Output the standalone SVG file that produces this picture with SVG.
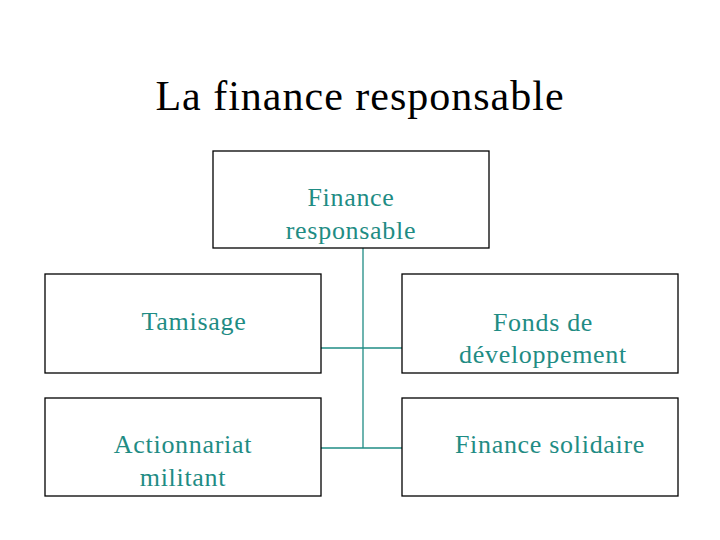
<svg xmlns="http://www.w3.org/2000/svg" width="720" height="540" viewBox="0 0 720 540">
<style>
.box{fill:#fff;stroke:#000;stroke-width:1.3}
.lbl{font-family:"Liberation Serif",serif;font-size:26px;letter-spacing:0.7px;fill:#1f8c84;text-anchor:middle}
.title{font-family:"Liberation Serif",serif;font-size:42px;letter-spacing:1px;fill:#000;text-anchor:middle}
.conn{stroke:#1f8c84;stroke-width:1.3;fill:none}
</style>
<rect width="720" height="540" fill="#fff"/>
<text class="title" x="360" y="110">La finance responsable</text>
<g id="connectors">
<path class="conn" d="M363 248 V448"/>
<path class="conn" d="M321 348 H404"/>
<path class="conn" d="M321 448 H404"/>
</g>
<g id="n_root">
<rect class="box" x="213" y="151" width="276" height="97"/>
<text class="lbl" x="351" y="206">Finance</text>
<text class="lbl" x="351" y="239">responsable</text>
</g>
<g id="n_tamisage">
<rect class="box" x="45" y="274" width="276" height="99"/>
<text class="lbl" x="194" y="330">Tamisage</text>
</g>
<g id="n_fonds">
<rect class="box" x="402" y="274" width="276" height="99"/>
<text class="lbl" x="543" y="331">Fonds de</text>
<text class="lbl" x="543" y="363">développement</text>
</g>
<g id="n_action">
<rect class="box" x="45" y="398" width="276" height="98"/>
<text class="lbl" x="183" y="453">Actionnariat</text>
<text class="lbl" x="183" y="486">militant</text>
</g>
<g id="n_solidaire">
<rect class="box" x="402" y="398" width="276" height="98"/>
<text class="lbl" x="550" y="453">Finance solidaire</text>
</g>
</svg>
